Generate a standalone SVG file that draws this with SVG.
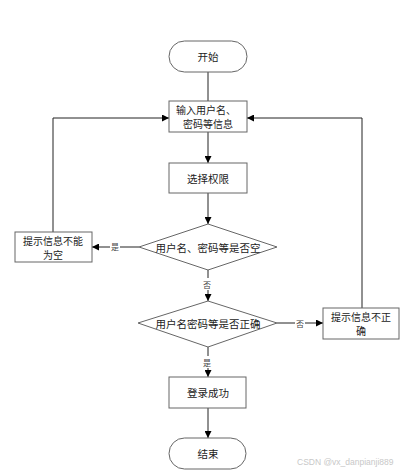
<svg xmlns="http://www.w3.org/2000/svg" width="404" height="474" viewBox="0 0 404 474">
<defs>
<marker id="ah" viewBox="0 0 10 10" refX="10" refY="5" markerWidth="7" markerHeight="7" orient="auto" markerUnits="userSpaceOnUse">
<path d="M0,0 L10,5 L0,10 z" fill="#000"/>
</marker>
<style>
.box{fill:#fff;stroke:#666;stroke-width:1}
.t{font-family:"Noto Sans CJK SC","Liberation Serif",sans-serif;font-size:10.5px;fill:#222;text-anchor:middle;dominant-baseline:central}
.t2{font-family:"Noto Sans CJK SC","Liberation Serif",sans-serif;font-size:10px;fill:#222;text-anchor:middle;dominant-baseline:central}
.lbl{font-family:"Noto Sans CJK SC","Liberation Serif",sans-serif;font-size:8px;fill:#444;text-anchor:middle;dominant-baseline:central}
.c{fill:none;stroke:#222;stroke-width:1}
.ca{fill:none;stroke:#222;stroke-width:1;marker-end:url(#ah)}
</style>
</defs>
<rect width="404" height="474" fill="#fff"/>
<g id="connectors">
<line class="c" x1="208" y1="72" x2="208" y2="101"/>
<line class="ca" x1="208" y1="132" x2="208" y2="163"/>
<line class="ca" x1="208" y1="193" x2="208" y2="224"/>
<line class="ca" x1="139" y1="247" x2="92" y2="247"/>
<polyline class="ca" points="53,232 53,118 169,118"/>
<line class="ca" x1="208" y1="270" x2="208" y2="301"/>
<line class="ca" x1="277" y1="323" x2="323" y2="323"/>
<polyline class="ca" points="362,308 362,118 247,118"/>
<line class="ca" x1="208" y1="347" x2="208" y2="377"/>
<line class="ca" x1="208" y1="408" x2="208" y2="438"/>
<rect x="110" y="240" width="10" height="13" fill="#fff"/>
<text class="lbl" x="115" y="246">是</text>
<rect x="202" y="278" width="10" height="12" fill="#fff"/>
<text class="lbl" x="207" y="284">否</text>
<rect x="295" y="317" width="10" height="12" fill="#fff"/>
<text class="lbl" x="300" y="323">否</text>
<rect x="202" y="356" width="10" height="12" fill="#fff"/>
<text class="lbl" x="207" y="362">是</text>
</g>
<g id="start">
<rect class="box" x="169" y="41" width="78" height="31" rx="15.5"/>
<text class="t" x="208" y="56.5">开始</text>
</g>
<g id="input">
<rect class="box" x="169" y="101" width="78" height="31"/>
<text class="t2" x="206" y="109.5">输入用户名、</text>
<text class="t2" x="208" y="123.5">密码等信息</text>
</g>
<g id="select">
<rect class="box" x="169" y="163" width="78" height="30"/>
<text class="t" x="208" y="178">选择权限</text>
</g>
<g id="check-empty">
<polygon class="box" points="208,224 277,247 208,270 139,247"/>
<text class="t" x="208" y="247">用户名、密码等是否空</text>
</g>
<g id="empty-msg">
<rect class="box" x="15" y="232" width="77" height="30"/>
<text class="t2" x="53" y="240">提示信息不能</text>
<text class="t2" x="53" y="254">为空</text>
</g>
<g id="check-correct">
<polygon class="box" points="208,301 277,323 208,347 138,323"/>
<text class="t" x="208" y="323">用户名密码等是否正确</text>
</g>
<g id="wrong-msg">
<rect class="box" x="323" y="308" width="76" height="31"/>
<text class="t2" x="361" y="316.5">提示信息不正</text>
<text class="t2" x="361" y="330.5">确</text>
</g>
<g id="success">
<rect class="box" x="169" y="377" width="77" height="31"/>
<text class="t" x="208" y="392">登录成功</text>
</g>
<g id="end">
<rect class="box" x="169" y="438" width="77" height="31" rx="15.5"/>
<text class="t" x="208" y="453.5">结束</text>
</g>
<text x="297" y="462" font-family="Liberation Sans,Arial,sans-serif" font-size="8.5" fill="#c8c8c8" dominant-baseline="central">CSDN @vx_danpianji889</text>
</svg>
